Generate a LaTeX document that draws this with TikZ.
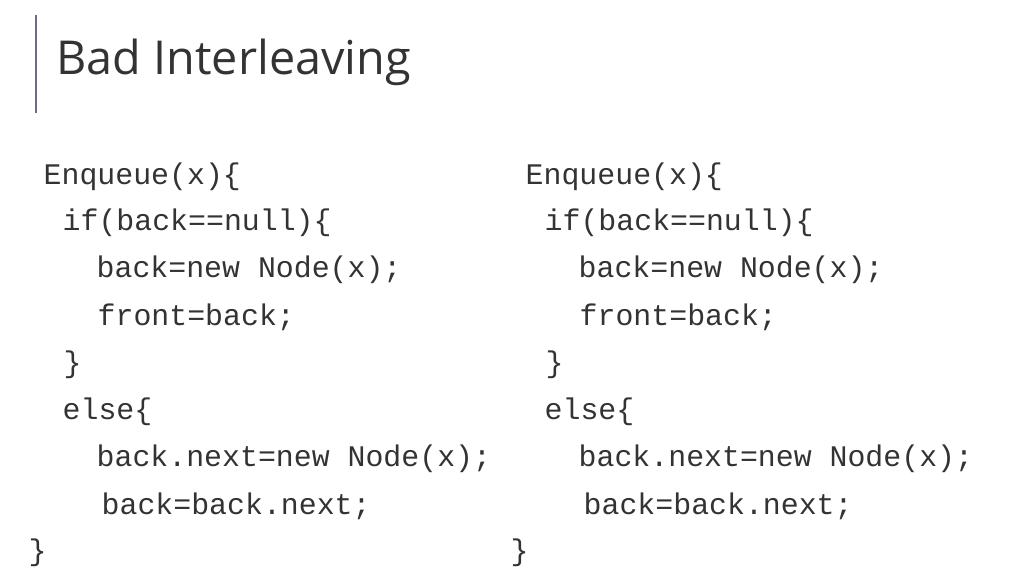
\documentclass[tikz,border=0pt]{standalone}
\usepackage{fontspec}
\setmainfont{Open Sans}
\setmonofont{Liberation Mono}
\definecolor{barcol}{HTML}{6E6A8A}
\definecolor{txtcol}{HTML}{333333}
\tikzset{
    code/.style={anchor=west, inner sep=0pt, text=txtcol, font=\fontsize{8.5pt}{10pt}\ttfamily},
    heading/.style={anchor=west, inner sep=0pt, text=txtcol, font=\fontsize{13.3pt}{16pt}\selectfont}
}
\begin{document}
\begin{tikzpicture}
    \useasboundingbox (0,0) rectangle (10.24,5.76);
    % title bar
    \coordinate (bartop) at (0.36,5.61);
    \coordinate (barbot) at (0.36,4.63);
    \draw[barcol, line width=0.6pt] (bartop) -- (barbot);
    \node[heading] (title) at (0.56,5.14) {Bad Interleaving};
    % two copies of the code
    \foreach \c/\dx in {l/0, r/4.82}{
        \begin{scope}[xshift=\dx cm]
            \node[code] (\c1) at (0.43,3.99) {Enqueue(x)\{};
            \node[code] (\c2) at (0.62,3.53) {if(back==null)\{};
            \node[code] (\c3) at (0.96,3.06) {back=new Node(x);};
            \node[code] (\c4) at (0.97,2.59) {front=back;};
            \node[code] (\c5) at (0.63,2.11) {\}};
            \node[code] (\c6) at (0.62,1.64) {else\{};
            \node[code] (\c7) at (0.96,1.17) {back.next=new Node(x);};
            \node[code] (\c8) at (1.01,0.70) {back=back.next;};
            \node[code] (\c9) at (0.28,0.23) {\}};
        \end{scope}
    }
\end{tikzpicture}
\end{document}
